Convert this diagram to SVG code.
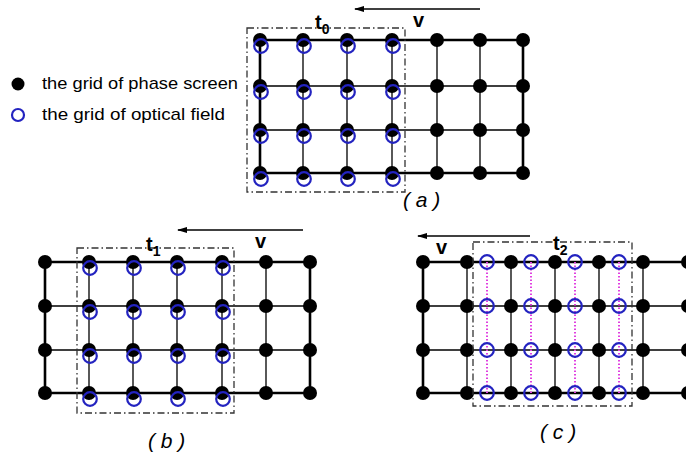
<svg xmlns="http://www.w3.org/2000/svg" width="686" height="454" viewBox="0 0 686 454">
<defs>
<style>
.thick{stroke:#000;stroke-width:2.6;fill:none}
.thin{stroke:#000;stroke-width:1.3;fill:none}
.dot{fill:#000}
.ring{fill:none;stroke:#2323c0;stroke-width:2.2}
.box{fill:none;stroke:#333;stroke-width:1.3;stroke-dasharray:7 3 1.5 3}
.mag{stroke:#e040e0;stroke-width:2;stroke-dasharray:1.5 2;fill:none}
.arr{stroke:#000;stroke-width:1.3;fill:none;marker-end:url(#ah)}
.lbl{font-family:"Liberation Sans",Arial,sans-serif;fill:#000}
.bold{font-family:"Liberation Sans",Arial,sans-serif;font-weight:bold;fill:#000}
.cap{font-family:"Liberation Sans",Arial,sans-serif;font-style:italic;font-size:21px;fill:#000}
</style>
<marker id="ah" markerWidth="10" markerHeight="8" refX="9" refY="4" orient="auto" markerUnits="userSpaceOnUse">
<path d="M0,1 L10,4 L0,7 Z" fill="#000"/>
</marker>
<circle id="d" r="7" class="dot"/>
<circle id="o" r="6.8" class="ring"/>
</defs>

<g id="legend">
<circle cx="18" cy="84" r="6.5" class="dot"/>
<text x="42" y="89" class="lbl" font-size="17" textLength="196" lengthAdjust="spacingAndGlyphs">the grid of phase screen</text>
<circle cx="18" cy="115" r="6" fill="none" stroke="#2323c0" stroke-width="2.2"/>
<text x="42" y="120" class="lbl" font-size="17" textLength="183" lengthAdjust="spacingAndGlyphs">the grid of optical field</text>
</g>

<g id="panel-a">
<g id="grid-a">
<path class="thick" d="M260,40 H523 M260,173 H523 M260,40 V173 M523,40 V173"/>
<path class="thin" d="M260,86 H523 M260,130 H523 M303,40 V173 M347,40 V173 M392,40 V173 M437,40 V173 M480,40 V173"/>
</g>
<g id="dots-a">
<use href="#d" x="260" y="40"/><use href="#d" x="303" y="40"/><use href="#d" x="347" y="40"/><use href="#d" x="392" y="40"/><use href="#d" x="437" y="40"/><use href="#d" x="480" y="40"/><use href="#d" x="523" y="40"/>
<use href="#d" x="260" y="86"/><use href="#d" x="303" y="86"/><use href="#d" x="347" y="86"/><use href="#d" x="392" y="86"/><use href="#d" x="437" y="86"/><use href="#d" x="480" y="86"/><use href="#d" x="523" y="86"/>
<use href="#d" x="260" y="130"/><use href="#d" x="303" y="130"/><use href="#d" x="347" y="130"/><use href="#d" x="392" y="130"/><use href="#d" x="437" y="130"/><use href="#d" x="480" y="130"/><use href="#d" x="523" y="130"/>
<use href="#d" x="260" y="173"/><use href="#d" x="303" y="173"/><use href="#d" x="347" y="173"/><use href="#d" x="392" y="173"/><use href="#d" x="437" y="173"/><use href="#d" x="480" y="173"/><use href="#d" x="523" y="173"/>
</g>
<g id="rings-a">
<use href="#o" x="261" y="46"/><use href="#o" x="304" y="46"/><use href="#o" x="348" y="46"/><use href="#o" x="393" y="46"/>
<use href="#o" x="261" y="92"/><use href="#o" x="304" y="92"/><use href="#o" x="348" y="92"/><use href="#o" x="393" y="92"/>
<use href="#o" x="261" y="136"/><use href="#o" x="304" y="136"/><use href="#o" x="348" y="136"/><use href="#o" x="393" y="136"/>
<use href="#o" x="261" y="179"/><use href="#o" x="304" y="179"/><use href="#o" x="348" y="179"/><use href="#o" x="393" y="179"/>
</g>
<rect class="box" x="247" y="28" width="158" height="164"/>
<text x="315" y="29" class="bold" font-size="20">t<tspan font-size="14" dy="5">0</tspan></text>
<text x="413" y="27" class="bold" font-size="20">v</text>
<text x="403" y="207" class="cap">( a )</text>
</g>

<g id="panel-b">
<g id="grid-b">
<path class="thick" d="M45,262 H310 M45,393 H310 M45,262 V393 M310,262 V393"/>
<path class="thin" d="M45,306 H310 M45,350 H310 M89,262 V393 M133,262 V393 M177,262 V393 M222,262 V393 M266,262 V393"/>
</g>
<g id="dots-b">
<use href="#d" x="45" y="262"/><use href="#d" x="89" y="262"/><use href="#d" x="133" y="262"/><use href="#d" x="177" y="262"/><use href="#d" x="222" y="262"/><use href="#d" x="266" y="262"/><use href="#d" x="310" y="262"/>
<use href="#d" x="45" y="306"/><use href="#d" x="89" y="306"/><use href="#d" x="133" y="306"/><use href="#d" x="177" y="306"/><use href="#d" x="222" y="306"/><use href="#d" x="266" y="306"/><use href="#d" x="310" y="306"/>
<use href="#d" x="45" y="350"/><use href="#d" x="89" y="350"/><use href="#d" x="133" y="350"/><use href="#d" x="177" y="350"/><use href="#d" x="222" y="350"/><use href="#d" x="266" y="350"/><use href="#d" x="310" y="350"/>
<use href="#d" x="45" y="393"/><use href="#d" x="89" y="393"/><use href="#d" x="133" y="393"/><use href="#d" x="177" y="393"/><use href="#d" x="222" y="393"/><use href="#d" x="266" y="393"/><use href="#d" x="310" y="393"/>
</g>
<g id="rings-b">
<use href="#o" x="90" y="268"/><use href="#o" x="134" y="268"/><use href="#o" x="178" y="268"/><use href="#o" x="223" y="268"/>
<use href="#o" x="90" y="312"/><use href="#o" x="134" y="312"/><use href="#o" x="178" y="312"/><use href="#o" x="223" y="312"/>
<use href="#o" x="90" y="356"/><use href="#o" x="134" y="356"/><use href="#o" x="178" y="356"/><use href="#o" x="223" y="356"/>
<use href="#o" x="90" y="399"/><use href="#o" x="134" y="399"/><use href="#o" x="178" y="399"/><use href="#o" x="223" y="399"/>
</g>
<rect class="box" x="77" y="248" width="157" height="165"/>
<text x="146" y="251" class="bold" font-size="20">t<tspan font-size="14" dy="5">1</tspan></text>
<text x="255" y="248" class="bold" font-size="20">v</text>
<text x="148" y="448" class="cap">( b )</text>
</g>

<g id="panel-c">
<g id="grid-c">
<path class="thick" d="M423,262 H686 M423,393 H686 M423,262 V393 M688,262 V393"/>
<path class="thin" d="M423,306 H686 M423,350 H686 M467,262 V393 M511,262 V393 M555,262 V393 M599,262 V393 M643,262 V393"/>
</g>
<g id="mag-c">
<path class="mag" d="M487,262 V393 M531,262 V393 M575,262 V393 M619,262 V393"/>
</g>
<g id="dots-c">
<use href="#d" x="423" y="262"/><use href="#d" x="467" y="262"/><use href="#d" x="511" y="262"/><use href="#d" x="555" y="262"/><use href="#d" x="599" y="262"/><use href="#d" x="643" y="262"/><use href="#d" x="688" y="262"/>
<use href="#d" x="423" y="306"/><use href="#d" x="467" y="306"/><use href="#d" x="511" y="306"/><use href="#d" x="555" y="306"/><use href="#d" x="599" y="306"/><use href="#d" x="643" y="306"/><use href="#d" x="688" y="306"/>
<use href="#d" x="423" y="350"/><use href="#d" x="467" y="350"/><use href="#d" x="511" y="350"/><use href="#d" x="555" y="350"/><use href="#d" x="599" y="350"/><use href="#d" x="643" y="350"/><use href="#d" x="688" y="350"/>
<use href="#d" x="423" y="393"/><use href="#d" x="467" y="393"/><use href="#d" x="511" y="393"/><use href="#d" x="555" y="393"/><use href="#d" x="599" y="393"/><use href="#d" x="643" y="393"/><use href="#d" x="688" y="393"/>
</g>
<g id="rings-c">
<use href="#o" x="487" y="262"/><use href="#o" x="531" y="262"/><use href="#o" x="575" y="262"/><use href="#o" x="619" y="262"/>
<use href="#o" x="487" y="306"/><use href="#o" x="531" y="306"/><use href="#o" x="575" y="306"/><use href="#o" x="619" y="306"/>
<use href="#o" x="487" y="350"/><use href="#o" x="531" y="350"/><use href="#o" x="575" y="350"/><use href="#o" x="619" y="350"/>
<use href="#o" x="487" y="393"/><use href="#o" x="531" y="393"/><use href="#o" x="575" y="393"/><use href="#o" x="619" y="393"/>
</g>
<rect class="box" x="473" y="242" width="159" height="164"/>
<text x="553" y="250" class="bold" font-size="20">t<tspan font-size="14" dy="5">2</tspan></text>
<text x="436" y="254" class="bold" font-size="20">v</text>
<text x="540" y="439" class="cap">( c )</text>
</g>

<g id="connectors">
<line class="arr" x1="480" y1="9" x2="355" y2="9"/>
<line class="arr" x1="303" y1="230" x2="178" y2="230"/>
<line class="arr" x1="530" y1="236" x2="418" y2="236"/>
</g>
</svg>
